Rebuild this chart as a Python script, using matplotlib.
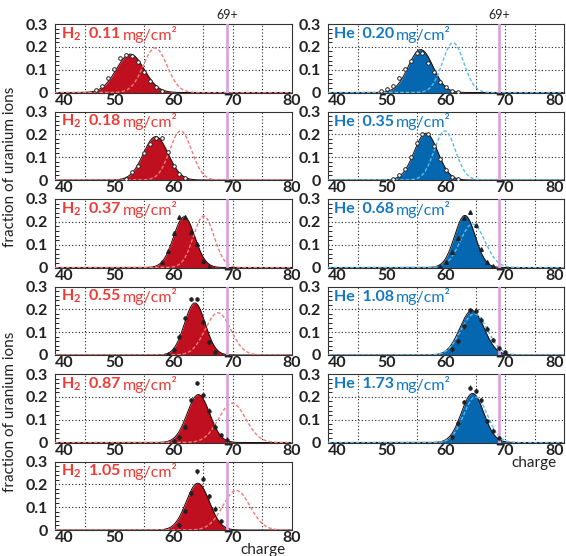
import numpy as np
import matplotlib
matplotlib.use('Agg')
import matplotlib.pyplot as plt

plt.rcParams['font.family'] = ['Lato', 'DejaVu Sans']
plt.rcParams['mathtext.default'] = 'regular'

# target thickness labels (mg/cm2)
h2_thick = ['0.11', '0.18', '0.37', '0.55', '0.87', '1.05']
he_thick = ['0.20', '0.35', '0.68', '1.08', '1.73']

# gaussian fits to the measured distributions: centre, width, height
h2_fit = [(52.7, 2.35, 0.168), (57.0, 2.1, 0.190), (61.8, 1.8, 0.222),
          (63.6, 1.75, 0.228), (64.2, 1.9, 0.210), (64.1, 1.95, 0.205)]
he_fit = [(55.7, 2.1, 0.188), (56.6, 2.0, 0.205), (63.2, 1.75, 0.228),
          (64.4, 2.05, 0.195), (64.5, 1.9, 0.215)]

# predicted (equilibrium) distributions, dashed
h2_pred = [(56.9, 2.0, 0.195), (61.2, 1.85, 0.215), (65.1, 1.75, 0.225),
           (67.5, 2.15, 0.185), (69.9, 2.3, 0.172), (70.6, 2.3, 0.173)]
he_pred = [(61.2, 1.8, 0.218), (59.8, 1.8, 0.215), (64.5, 2.1, 0.190),
           (64.8, 2.25, 0.180), (65.0, 2.0, 0.200)]

# measured points: first charge, fractions
h2_start = [47, 52, 58, 59, 60, 61]
h2_pts = [
    [0.010, 0.030, 0.065, 0.105, 0.150, 0.165, 0.160, 0.135, 0.090, 0.050, 0.025, 0.008],
    [0.006, 0.033, 0.063, 0.120, 0.157, 0.182, 0.182, 0.122, 0.063, 0.028, 0.007],
    [0.024, 0.072, 0.150, 0.220, 0.220, 0.157, 0.102, 0.028, 0.004],
    [0.002, 0.024, 0.080, 0.160, 0.245, 0.245, 0.145, 0.055, 0.013],
    [0.005, 0.022, 0.070, 0.185, 0.260, 0.207, 0.140, 0.070, 0.031, 0.012],
    [0.020, 0.083, 0.160, 0.257, 0.225, 0.147, 0.093, 0.040],
]
he_start = [49, 51, 59, 61, 61]
he_pts = [
    [0.005, 0.015, 0.030, 0.063, 0.105, 0.138, 0.175, 0.172, 0.128, 0.090, 0.048, 0.025, 0.008, 0.002],
    [0.005, 0.020, 0.050, 0.100, 0.160, 0.200, 0.200, 0.150, 0.090, 0.045, 0.015, 0.004],
    [0.005, 0.024, 0.069, 0.131, 0.218, 0.243, 0.184, 0.079, 0.024, 0.005],
    [0.025, 0.060, 0.125, 0.195, 0.192, 0.155, 0.115, 0.065, 0.031, 0.013],
    [0.023, 0.086, 0.177, 0.240, 0.227, 0.184, 0.094, 0.052, 0.020],
]

cut_charge = 69.0

RED_FILL, RED_TXT, RED_DASH = '#c00f1e', '#ef3b36', '#f27c78'
BLUE_FILL, BLUE_TXT, BLUE_DASH = '#0567b0', '#1478c2', '#5cbbe8'
VIOLET = '#d9a6dc'
INK = '#222222'

W, H = 566, 556
fig = plt.figure(figsize=(W / 100, H / 100), dpi=100)

col_x = [55, 328]
col_w = [237, 236]
row_top = [24, 111.5, 199, 286.5, 374, 461.5]
row_h = 68.5


def gauss(x, p):
    mu, sig, amp = p
    return amp * np.exp(-0.5 * ((x - mu) / sig) ** 2)


def panel(col, row, gas, thick, fit, pred, start, pts, fill, txt, dash):
    ax = fig.add_axes([col_x[col] / W, 1 - (row_top[row] + row_h) / H,
                       col_w[col] / W, row_h / H])
    xs = np.linspace(40, 80, 400)
    ax.fill_between(xs, gauss(xs, fit), color=fill, lw=0, zorder=2)
    ax.plot(xs, gauss(xs, fit), color='#1a0505', lw=0.7, zorder=2)
    ax.plot(xs, gauss(xs, pred), color=dash, lw=1.0, ls=(0, (2.5, 1.5)), zorder=3)
    ax.axvline(cut_charge, color=VIOLET, lw=2.0, zorder=4)

    q = np.arange(start, start + len(pts))
    if row < 2:
        ax.plot(q, pts, 'o', ms=2.6, mfc='white', mec=INK, mew=0.7, zorder=5)
    elif row == 2:
        ax.errorbar(q, pts, yerr=0.008, fmt='^', ms=2.6, color=INK,
                    elinewidth=0.8, capsize=0, zorder=5)
    else:
        ax.errorbar(q, pts, yerr=0.010, fmt='o', ms=2.2, color=INK,
                    elinewidth=0.8, capsize=0, zorder=5)

    ax.set_xlim(40, 80)
    ax.set_ylim(0, 0.3)
    ax.set_xticks([40, 50, 60, 70, 80])
    ax.set_yticks([0, 0.1, 0.2, 0.3])
    ax.set_yticklabels(['0', '0.1', '0.2', '0.3'])
    ax.set_yticks(np.arange(0, 0.3, 0.02), minor=True)
    ax.tick_params(axis='both', which='major', labelsize=11.5, length=0, pad=1)
    ax.tick_params(axis='y', which='major', pad=5)
    ax.tick_params(axis='y', which='minor', direction='in', length=3, width=0.6)
    ax.tick_params(axis='x', which='minor', length=0)
    for lab in ax.get_xticklabels() + ax.get_yticklabels():
        lab.set_fontweight('bold')
        lab.set_color(INK)
    ax.get_xticklabels()[0].set_horizontalalignment('left')
    if col == 1:
        ax.get_xticklabels()[-1].set_horizontalalignment('right')
    for x in [45, 55, 65, 70, 75]:
        ax.axvline(x, color=INK, lw=0.8, ls=(0, (1, 2)), zorder=1)
    for y in [0.1, 0.2]:
        ax.axhline(y, color=INK, lw=0.8, ls=(0, (1, 2)), zorder=1)
    for s in ax.spines.values():
        s.set_color('#333333')
        s.set_linewidth(0.8)

    t = ax.text(0.025, 0.85, gas + '  ' + thick, transform=ax.transAxes,
                color=txt, fontsize=11.5, fontweight='bold', va='center',
                zorder=6)
    ax.annotate('mg/cm\u00b2', xy=(1, 0.5), xycoords=t, xytext=(1.5, 0),
                textcoords='offset points', va='center',
                color=txt, fontsize=11.5, zorder=6)
    return ax


for i in range(6):
    panel(0, i, 'H$_2$', h2_thick[i], h2_fit[i], h2_pred[i], h2_start[i],
          h2_pts[i], RED_FILL, RED_TXT, RED_DASH)
for i in range(5):
    panel(1, i, 'He', he_thick[i], he_fit[i], he_pred[i], he_start[i],
          he_pts[i], BLUE_FILL, BLUE_TXT, BLUE_DASH)

# labels around the panels
for cx, cw in zip(col_x, col_w):
    xp = cx + (cut_charge - 40) / 40 * cw
    fig.text(xp / W, 1 - 15 / H, '69+', ha='center', va='center',
             fontsize=9, color=INK)

fig.text(263 / W, 1 - 550 / H, 'charge', ha='center', va='center',
         fontsize=11, color=INK)
fig.text(534 / W, 1 - 463 / H, 'charge', ha='center', va='center',
         fontsize=11, color=INK)
fig.text(10 / W, 1 - 167 / H, 'fraction of uranium ions', rotation=90,
         ha='center', va='center', fontsize=11, color=INK)
fig.text(10 / W, 1 - 412 / H, 'fraction of uranium ions', rotation=90,
         ha='center', va='center', fontsize=11, color=INK)

fig.savefig('out.png', dpi=100)
